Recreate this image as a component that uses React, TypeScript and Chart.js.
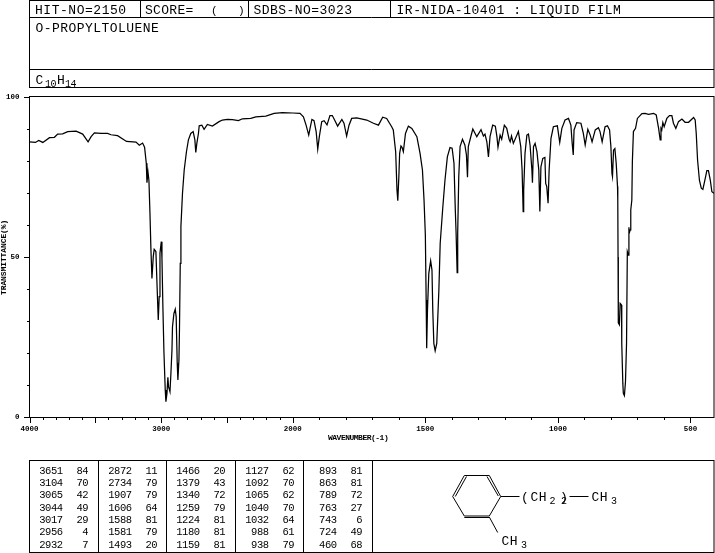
import React, { useEffect, useRef } from "react";
import { Chart, registerables, LinearScale } from "chart.js";

// ---------- data ----------
const wavenumbers = [
  4000, 3955, 3930, 3899, 3848, 3811, 3786, 3748, 3710, 3646, 3596, 3555, 3532, 3507, 3457, 3407, 3381, 3331, 3263, 3191,
  3166, 3141, 3126, 3113, 3108, 3100, 3093, 3085, 3078, 3070, 3060, 3053, 3040, 3030, 3022, 3015, 3009, 2999, 2994, 2987,
  2979, 2969, 2964, 2956, 2949, 2944, 2933, 2926, 2918, 2914, 2903, 2893, 2886, 2878, 2873, 2865, 2861, 2855, 2850, 2838,
  2825, 2808, 2793, 2775, 2757, 2744, 2737, 2729, 2717, 2711, 2691, 2674, 2649, 2611, 2560, 2535, 2497, 2459, 2413, 2383,
  2319, 2281, 2205, 2142, 2079, 2000, 1973, 1960, 1950, 1940, 1935, 1928, 1920, 1912, 1906, 1900, 1891, 1882, 1871, 1860,
  1851, 1841, 1831, 1815, 1807, 1797, 1788, 1778, 1759, 1721, 1696, 1677, 1661, 1646, 1627, 1621, 1612, 1607, 1604, 1600,
  1597, 1592, 1588, 1583, 1575, 1564, 1551, 1532, 1520, 1511, 1505, 1500, 1497, 1495, 1492, 1487, 1480, 1475, 1472, 1468,
  1463, 1457, 1449, 1444, 1434, 1426, 1417, 1407, 1399, 1392, 1387, 1384, 1380, 1378, 1374, 1369, 1360, 1351, 1345, 1341,
  1338, 1331, 1321, 1306, 1290, 1281, 1275, 1268, 1262, 1256, 1246, 1236, 1230, 1226, 1218, 1212, 1202, 1193, 1184, 1180,
  1175, 1168, 1149, 1140, 1135, 1131, 1129, 1124, 1117, 1111, 1105, 1098, 1096, 1092, 1086, 1079, 1072, 1068, 1064, 1057,
  1049, 1046, 1042, 1037, 1033, 1026, 1017, 1002, 993, 985, 973, 960, 951, 946, 942, 939, 929, 913, 904, 897,
  887, 878, 871, 859, 847, 841, 833, 822, 813, 805, 800, 796, 794, 790, 785, 780, 775, 774, 773, 772,
  768, 765, 760, 759, 755, 753, 749, 745, 741, 738, 734, 732, 731, 727, 725, 721, 719, 715, 707, 700,
  683, 671, 658, 639, 629, 620, 614, 611, 608, 604, 599, 589, 579, 570, 564, 555, 545, 532, 520, 507,
  488, 482, 478, 473, 466, 459, 453, 444, 438, 432, 425, 419, 411,
];
const transmittance = [
  86.0, 85.8, 86.4, 85.8, 87.3, 87.4, 88.4, 88.5, 89.2, 89.3, 88.4, 86.0, 87.6, 88.8, 88.6, 88.6, 88.2, 87.9, 86.1, 85.9,
  84.9, 85.6, 84.3, 79.3, 73.2, 76.5, 74.0, 63.6, 52.7, 43.3, 50.1, 52.4, 51.7, 39.7, 30.3, 37.6, 51.2, 54.8, 49.6, 34.5,
  20.4, 8.4, 4.8, 7.4, 12.4, 9.5, 7.9, 13.6, 20.9, 28.2, 32.4, 33.7, 31.3, 16.8, 11.6, 17.8, 27.2, 48.0, 59.5, 69.9,
  77.2, 82.9, 86.6, 88.6, 89.2, 86.6, 82.7, 85.5, 88.6, 91.0, 91.2, 89.9, 91.4, 90.9, 92.3, 92.8, 93.0, 92.9, 92.6, 93.2,
  93.3, 93.8, 94.0, 94.9, 95.1, 95.0, 94.9, 93.8, 91.2, 88.1, 90.2, 93.0, 92.6, 89.2, 83.7, 87.6, 92.3, 92.6, 91.3, 94.2,
  94.2, 92.6, 90.9, 93.0, 91.8, 87.8, 91.2, 93.3, 93.5, 92.8, 91.8, 91.2, 93.7, 93.3, 90.7, 89.7, 82.9, 70.9, 67.6, 75.1,
  82.4, 84.7, 84.3, 82.9, 88.6, 90.9, 90.2, 87.6, 82.4, 77.2, 67.8, 56.9, 36.6, 21.5, 33.4, 44.9, 48.8, 45.9, 33.4, 23.0,
  20.7, 23.0, 39.7, 54.3, 65.7, 74.0, 81.3, 84.2, 84.0, 79.3, 64.7, 57.4, 45.1, 57.4, 75.1, 84.5, 86.8, 85.0, 81.9, 74.9,
  84.5, 86.8, 90.0, 87.6, 89.8, 87.8, 88.4, 86.0, 81.3, 87.6, 91.2, 90.9, 87.6, 84.3, 88.1, 86.8, 91.2, 90.2, 86.8, 86.0,
  87.8, 85.5, 89.2, 84.5, 77.2, 64.2, 70.9, 82.4, 88.1, 88.4, 85.0, 77.2, 73.2, 84.5, 85.5, 82.9, 77.2, 64.2, 78.2, 80.8,
  81.1, 73.0, 72.0, 66.8, 77.2, 87.1, 90.7, 91.0, 85.8, 90.2, 92.8, 93.3, 91.2, 85.5, 81.9, 89.7, 92.0, 91.8, 88.6, 85.0,
  89.9, 88.1, 86.0, 89.7, 90.4, 89.2, 86.0, 90.7, 91.0, 89.7, 84.5, 76.1, 75.1, 83.4, 83.9, 79.3, 72.0, 67.8, 50.0, 29.4,
  28.8, 35.5, 35.0, 23.0, 10.5, 7.4, 6.7, 11.0, 23.0, 51.7, 50.6, 59.3, 57.4, 58.5, 64.7, 67.8, 79.8, 89.2, 90.2, 93.3,
  94.8, 94.9, 94.6, 94.9, 94.4, 90.2, 86.6, 90.2, 89.7, 92.0, 90.7, 93.3, 94.2, 94.2, 91.8, 90.2, 92.3, 93.1, 92.1, 92.1,
  93.6, 92.8, 88.6, 80.3, 74.0, 71.5, 71.1, 74.6, 77.0, 77.0, 74.0, 70.4, 69.9,
];
const xLabelled = [4000, 3000, 2000, 1500, 1000, 500];
const yLabelled = [100, 50, 0];

const hitText = "HIT-NO=2150";
const scoreText = "SCORE=";
const sdbsText = "SDBS-NO=3023";
const irText = "IR-NIDA-10401 : LIQUID FILM";
const compoundName = "O-PROPYLTOLUENE";
const xTitle = "WAVENUMBER(-1)";
const yTitle = "TRANSMITTANCE(%)";

const peakWavenumbers = [
  ["3651", "3104", "3065", "3044", "3017", "2956", "2932"],
  ["2872", "2734", "1907", "1606", "1588", "1581", "1493"],
  ["1466", "1379", "1340", "1259", "1224", "1180", "1159"],
  ["1127", "1092", "1065", "1040", "1032", "988", "938"],
  ["893", "863", "789", "763", "743", "724", "460"],
];
const peakIntensities = [
  ["84", "70", "42", "49", "29", "4", "7"],
  ["11", "79", "79", "64", "81", "79", "20"],
  ["20", "43", "72", "79", "81", "81", "81"],
  ["62", "70", "62", "70", "64", "61", "79"],
  ["81", "81", "72", "27", "6", "49", "68"],
];

// ---------- piecewise wavenumber axis (scale doubles below 2000 cm-1) ----------
const BREAK = 2000;
const BREAK_FRACTION = 0.3847;
class SpectrumScale extends LinearScale {
  static id = "spectrum";
  static defaults = LinearScale.defaults;
  getPixelForValue(v: number) {
    const s: any = this;
    const bx = s.left + s.width * BREAK_FRACTION;
    if (v >= BREAK) return s.left + ((s.max - v) / (s.max - BREAK)) * (bx - s.left);
    return bx + ((BREAK - v) / (BREAK - s.min)) * (s.right - bx);
  }
  getValueForPixel(p: number) {
    const s: any = this;
    const bx = s.left + s.width * BREAK_FRACTION;
    if (p <= bx) return s.max - ((p - s.left) / (bx - s.left)) * (s.max - BREAK);
    return BREAK - ((p - bx) / (s.right - bx)) * (BREAK - s.min);
  }
}
Chart.register(...registerables, SpectrumScale as any);

const MONO = '"Liberation Mono", monospace';

function txt(ctx: CanvasRenderingContext2D, s: string, x: number, y: number, size: number, adv: number, align: CanvasTextAlign = "left", weight = "normal") {
  ctx.font = `${weight} ${size}px ${MONO}`;
  (ctx as any).letterSpacing = `${(adv - size * 0.6).toFixed(2)}px`;
  ctx.textAlign = align;
  ctx.textBaseline = "alphabetic";
  ctx.fillStyle = "#000";
  ctx.fillText(s, x, y);
  (ctx as any).letterSpacing = "0px";
}
function seg(ctx: CanvasRenderingContext2D, ...p: number[]) {
  ctx.beginPath();
  ctx.moveTo(p[0], p[1]);
  for (let i = 2; i < p.length; i += 2) ctx.lineTo(p[i], p[i + 1]);
  ctx.stroke();
}

const sheetPlugin = {
  id: "sheet",
  afterDraw(chart: any) {
    const ctx: CanvasRenderingContext2D = chart.ctx;
    const { x, y } = chart.scales;
    ctx.save();
    ctx.strokeStyle = "#000";
    ctx.lineWidth = 1;

    // header boxes
    ctx.strokeRect(29.5, 0.5, 684.5, 87);
    seg(ctx, 29.5, 17.5, 714, 17.5);
    seg(ctx, 29.5, 69.5, 714, 69.5);
    seg(ctx, 140.5, 0, 140.5, 17);
    seg(ctx, 248.5, 0, 248.5, 17);
    seg(ctx, 390.5, 0, 390.5, 17);
    txt(ctx, hitText, 35, 14, 13, 8.33);
    txt(ctx, scoreText, 145, 14, 13, 8.1);
    txt(ctx, "(", 211, 14, 11, 6.6);
    txt(ctx, ")", 238, 14, 11, 6.6);
    txt(ctx, sdbsText, 253.5, 14, 13, 8.25);
    txt(ctx, irText, 396.5, 14, 13, 8.33);
    txt(ctx, compoundName, 35.5, 31.5, 13, 8.24);
    txt(ctx, "C", 35.5, 83.5, 13, 8);
    txt(ctx, "10", 45, 86.5, 10, 5.4);
    txt(ctx, "H", 57, 83.5, 13, 8);
    txt(ctx, "14", 65, 86.5, 10, 5.4);

    // plot frame
    ctx.strokeRect(29.5, 96.5, 684.5, 321);

    // axis ticks through the scales
    for (let v = 4000; v >= 500; v -= 100) {
      const px = Math.round(x.getPixelForValue(v)) + 0.5;
      seg(ctx, px, 417, px, v % 500 === 0 ? 423 : 420);
    }
    for (let v = 0; v <= 100; v += 10) {
      const py = Math.round(y.getPixelForValue(v) - 0.5) + 0.5;
      seg(ctx, yLabelled.includes(v) ? 24 : 27, py, 29, py);
    }

    // axis titles
    txt(ctx, xTitle, 328, 440, 8, 4.3, "left", "bold");
    ctx.save();
    ctx.translate(6, 295);
    ctx.rotate(-Math.PI / 2);
    txt(ctx, yTitle, 0, 0, 8, 4.7, "left", "bold");
    ctx.restore();

    // peak table
    ctx.strokeRect(29.5, 460.5, 684.5, 92);
    const colX = [29.5, 98.5, 166.5, 235.5, 303.5];
    colX.slice(1).forEach((cx) => seg(ctx, cx, 460, cx, 552));
    seg(ctx, 372.5, 460, 372.5, 552);
    const rowY = [474, 486, 498.3, 510.7, 522.7, 535, 547.5];
    colX.forEach((cx, c) => {
      rowY.forEach((ry, r) => {
        txt(ctx, peakWavenumbers[c][r], cx + 33, ry, 10.5, 5.8, "right");
        txt(ctx, peakIntensities[c][r], cx + 58.5, ry, 10.5, 5.8, "right");
      });
    });

    // structure
    seg(ctx, 464.3, 475.5, 489.3, 475.5, 500.7, 496.5, 489.3, 516, 464.3, 516, 452.7, 496.5, 464.3, 475.5);
    seg(ctx, 466.5, 476.5, 455.3, 496.5);
    seg(ctx, 487, 476.5, 498.3, 496);
    seg(ctx, 464.3, 517.5, 489.3, 517.5);
    seg(ctx, 500.7, 496.5, 519.5, 496.5);
    seg(ctx, 569.5, 496.5, 588.5, 496.5);
    seg(ctx, 489.3, 517, 497.7, 532.5);
    txt(ctx, "(", 521, 501, 13, 7.8);
    txt(ctx, "CH", 530.5, 501, 13, 8.2);
    txt(ctx, "2", 549.5, 504, 10, 6);
    txt(ctx, ")", 560, 501, 13, 7.8);
    txt(ctx, "2", 561, 504, 10, 6);
    txt(ctx, "CH", 591.5, 501, 13, 8.2);
    txt(ctx, "3", 611, 504, 10, 6);
    txt(ctx, "CH", 501.5, 545, 13, 8.2);
    txt(ctx, "3", 521, 548, 10, 6);
    ctx.restore();
  },
};

export default function App() {
  const ref = useRef<HTMLCanvasElement>(null);
  useEffect(() => {
    if (!ref.current) return;
    const chart = new Chart(ref.current, {
      type: "line",
      data: {
        datasets: [
          {
            data: wavenumbers.map((w, i) => ({ x: w, y: transmittance[i] })),
            borderColor: "#000",
            borderWidth: 1.25,
            pointRadius: 0,
            tension: 0,
            fill: false,
          },
        ],
      },
      plugins: [sheetPlugin],
      options: {
        animation: false,
        responsive: false,
        devicePixelRatio: 1,
        layout: { padding: { left: 0, right: 1, top: 97, bottom: 0 } },
        plugins: { legend: { display: false }, tooltip: { enabled: false }, title: { display: false } },
        scales: {
          x: {
            type: "spectrum" as any,
            min: 411,
            max: 4000,
            grid: { display: false, drawTicks: false },
            border: { display: false },
            afterFit: (s: any) => { s.height = 136; },
            afterBuildTicks: (s: any) => { s.ticks = xLabelled.map((value) => ({ value })); },
            ticks: {
              autoSkip: false,
              maxRotation: 0,
              minRotation: 0,
              padding: 8,
              color: "#000",
              font: { family: MONO, size: 7.5, weight: "bold" },
              callback: (v: any) => String(v),
            },
          } as any,
          y: {
            type: "linear",
            min: 0,
            max: 100,
            grid: { display: false, drawTicks: false },
            border: { display: false },
            afterFit: (s: any) => { s.width = 29.5; },
            ticks: {
              stepSize: 10,
              padding: 10,
              color: "#000",
              font: { family: MONO, size: 7.5, weight: "bold" },
              callback: (v: any) => (yLabelled.includes(Number(v)) ? String(v) : ""),
            },
          },
        },
      },
    });
    return () => chart.destroy();
  }, []);
  return (
    <div style={{ position: "absolute", left: 0, top: 0, width: 715, height: 553, background: "#fff" }}>
      <canvas ref={ref} width={715} height={553} style={{ display: "block" }} />
    </div>
  );
}
